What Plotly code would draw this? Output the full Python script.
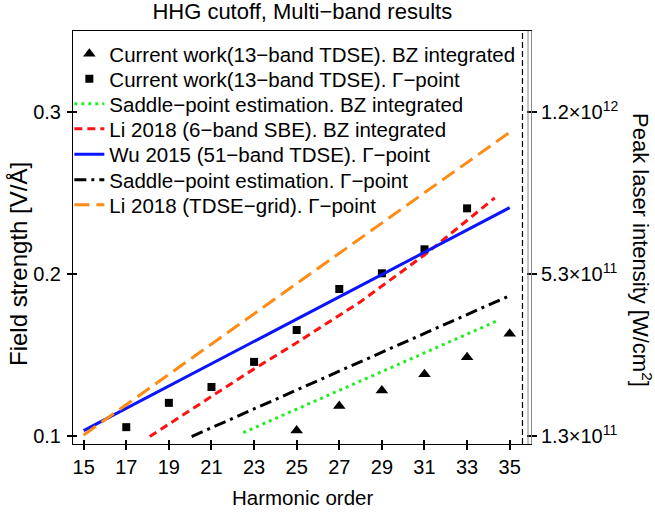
import plotly.graph_objects as go

# Harmonic cutoff vs. field strength, multi-band results
harm_bz = [25, 27, 29, 31, 33, 35]
field_bz = [0.1033, 0.1185, 0.128, 0.138, 0.1486, 0.163]

harm_gamma = [17, 19, 21, 23, 25, 27, 29, 31, 33]
field_gamma = [0.1054, 0.1204, 0.1302, 0.1457, 0.1654, 0.1907, 0.2004, 0.2152, 0.2405]

saddle_bz_h = [22.49, 34.44]
saddle_bz_e = [0.102, 0.1712]

li_sbe_h = [18.1, 22.8, 25.0, 28.0, 31.0, 34.3]
li_sbe_e = [0.0996, 0.1397, 0.1575, 0.1829, 0.2117, 0.247]

wu_h = [15, 35]
wu_e = [0.1033, 0.2409]

saddle_g_h = [20.07, 35.0]
saddle_g_e = [0.0996, 0.1866]

li_grid_h = [15, 35]
li_grid_e = [0.1006, 0.2875]

x_ticks = list(range(15, 36, 2))
field_ticks = [0.1, 0.2, 0.3]
intensity_labels = ["1.3×10<sup>11</sup>", "5.3×10<sup>11</sup>", "1.2×10<sup>12</sup>"]
cutoff_limit = 35.6

X_RANGE = [14.5, 36.0]
Y_RANGE = [0.095, 0.35]
FONT = "Liberation Sans, Arial, Helvetica, sans-serif"
PLOT_BOTTOM, PLOT_H = 444, 413  # pixel frame of the plotting area

fig = go.Figure()

series = [
    dict(x=harm_bz, y=field_bz, mode="markers",
         marker=dict(symbol="triangle-up", size=11, color="black"),
         name="Current work(13−band TDSE). BZ integrated"),
    dict(x=harm_gamma, y=field_gamma, mode="markers",
         marker=dict(symbol="square", size=8, color="black"),
         name="Current work(13−band TDSE). Γ−point"),
    dict(x=saddle_bz_h, y=saddle_bz_e, mode="lines",
         line=dict(color="#22ee22", width=3, dash="3px,4px"),
         name="Saddle−point estimation. BZ integrated"),
    dict(x=li_sbe_h, y=li_sbe_e, mode="lines",
         line=dict(color="#ff1111", width=3, dash="8px,5px"),
         name="Li 2018 (6−band SBE). BZ integrated"),
    dict(x=wu_h, y=wu_e, mode="lines",
         line=dict(color="#0a14ff", width=3),
         name="Wu 2015 (51−band TDSE). Γ−point"),
    dict(x=saddle_g_h, y=saddle_g_e, mode="lines",
         line=dict(color="black", width=3, dash="12px,5px,3px,5px"),
         name="Saddle−point estimation. Γ−point"),
    dict(x=li_grid_h, y=li_grid_e, mode="lines",
         line=dict(color="#ff8a14", width=3, dash="15px,7px"),
         name="Li 2018 (TDSE−grid). Γ−point"),
]

# one legend per entry so the rows can sit on a tight 25 px pitch
legend_rows_px = [54, 79, 104, 129, 154.5, 180, 205]
legend_layouts = {}
for i, (s, row) in enumerate(zip(series, legend_rows_px)):
    key = "legend" if i == 0 else f"legend{i + 1}"
    fig.add_trace(go.Scatter(legend=key, **s))
    legend_layouts[key] = dict(
        x=-0.008, y=(PLOT_BOTTOM - row) / PLOT_H, xanchor="left", yanchor="middle",
        bgcolor="rgba(0,0,0,0)", borderwidth=0, itemwidth=30,
        font=dict(family=FONT, size=20.5, color="black"))

# helper traces so the overlaid tick axes get drawn
for xa, ya in [("x2", "y3"), ("x2", "y4")]:
    fig.add_trace(go.Scatter(x=[None], y=[None], xaxis=xa, yaxis=ya,
                             showlegend=False, hoverinfo="skip"))
fig.add_trace(go.Scatter(x=[None], y=[None], xaxis="x", yaxis="y2",
                         showlegend=False, hoverinfo="skip"))

# vertical dashed limit line
fig.add_shape(type="line", xref="x", yref="paper", x0=cutoff_limit, x1=cutoff_limit,
              y0=0, y1=1, line=dict(color="black", width=1.2, dash="6px,3px"))
# inner gray frame edge on the right
fig.add_shape(type="line", xref="paper", yref="paper", x0=0.9935, x1=0.9935,
              y0=0, y1=1, line=dict(color="#888888", width=1))

tickfont = dict(family=FONT, size=20, color="black")
common = dict(showgrid=False, zeroline=False)

fig.update_layout(
    width=655, height=512,
    margin=dict(l=73, r=124, t=31, b=68),
    paper_bgcolor="white", plot_bgcolor="white",
    font=dict(family=FONT, size=20, color="black"),
    title=dict(text="HHG cutoff, Multi−band results", x=0.4615, xanchor="center",
               y=1 - 11 / 512, yanchor="middle", yref="container",
               font=dict(family=FONT, size=22, color="black")),
    xaxis=dict(range=X_RANGE, tickvals=x_ticks, ticks="outside", ticklen=5,
               tickwidth=1.5, tickcolor="black", showline=True, linecolor="black",
               linewidth=1, mirror=True, tickfont=tickfont, **common),
    xaxis2=dict(range=X_RANGE, overlaying="x", anchor="y3", tickvals=x_ticks,
                ticks="inside", ticklen=4, tickwidth=1.5, tickcolor="black",
                showticklabels=False, showline=False, **common),
    yaxis=dict(range=Y_RANGE, tickvals=field_ticks, ticktext=["0.1", "0.2", "0.3"],
               ticks="outside", ticklen=5, tickwidth=1.5, tickcolor="black",
               showline=True, linecolor="black", linewidth=1, tickfont=tickfont,
               ticklabelstandoff=2, **common),
    yaxis2=dict(range=Y_RANGE, overlaying="y", side="right", anchor="x",
                tickvals=field_ticks, ticktext=intensity_labels,
                ticks="outside", ticklen=5, tickwidth=1.5, tickcolor="black",
                showline=True, linecolor="#888888", linewidth=1,
                tickfont=tickfont, **common),
    yaxis3=dict(range=Y_RANGE, overlaying="y", anchor="x2", side="left",
                tickvals=field_ticks, ticks="inside", ticklen=4, tickwidth=1.5,
                tickcolor="black", showticklabels=False, showline=False, **common),
    yaxis4=dict(range=Y_RANGE, overlaying="y", anchor="x2", side="right",
                tickvals=field_ticks, ticks="inside", ticklen=4, tickwidth=1.5,
                tickcolor="black", showticklabels=False, showline=False, **common),
    showlegend=True,
    **legend_layouts,
)

fig.add_annotation(text="Field strength [V/Å]", xref="paper", yref="paper",
                   x=(18 - 73) / 458, y=(PLOT_BOTTOM - 264) / PLOT_H, textangle=-90,
                   showarrow=False, xanchor="center", yanchor="middle",
                   font=dict(family=FONT, size=24, color="black"))
fig.add_annotation(text="Peak laser intensity [W/cm<sup>2</sup>]", xref="paper", yref="paper",
                   x=(642 - 73) / 458, y=(PLOT_BOTTOM - 250) / PLOT_H, textangle=90,
                   showarrow=False, xanchor="center", yanchor="middle",
                   font=dict(family=FONT, size=22, color="black"))
fig.add_annotation(text="Harmonic order", xref="paper", yref="paper",
                   x=0.5, y=(PLOT_BOTTOM - 497) / PLOT_H, showarrow=False,
                   xanchor="center", yanchor="middle",
                   font=dict(family=FONT, size=20.5, color="black"))

fig.write_html("out.html")
